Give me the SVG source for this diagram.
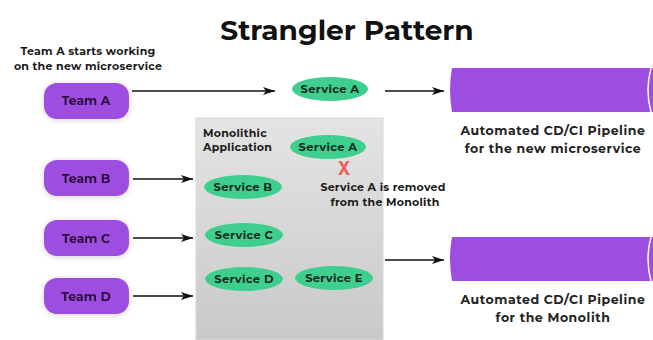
<svg xmlns="http://www.w3.org/2000/svg" width="653" height="340" viewBox="0 0 653 340">
  <defs>
    <linearGradient id="mono" x1="0" y1="0" x2="0" y2="1">
      <stop offset="0" stop-color="#e4e4e4"/>
      <stop offset="1" stop-color="#c9c9c9"/>
    </linearGradient>
    <filter id="soft" x="-20%" y="-20%" width="140%" height="140%">
      <feGaussianBlur in="SourceAlpha" stdDeviation="3"/>
      <feOffset dx="0" dy="1"/>
      <feComponentTransfer><feFuncA type="linear" slope="0.18"/></feComponentTransfer>
      <feMerge><feMergeNode/><feMergeNode in="SourceGraphic"/></feMerge>
    </filter>
    <marker id="arrow" viewBox="0 0 12 8" refX="12" refY="4" markerWidth="12" markerHeight="8" markerUnits="userSpaceOnUse" orient="auto">
      <path d="M0,0 L12,4 L0,8 L3,4 Z" fill="#111"/>
    </marker>
  </defs>
  <style>
    text { font-family: "Montserrat", "Noto Sans", "Liberation Sans", sans-serif; font-weight: bold; }
    .title { font-size: 28px; fill: #111; }
    .note { font-size: 11px; fill: #1a1a1a; letter-spacing: 0.25px; }
    .team rect { fill: #9d4ee0; }
    .team text { font-size: 12.5px; fill: #2a0f3a; text-anchor: middle; }
    .svc ellipse { fill: #3ecf8e; }
    .svc text { font-size: 11.5px; fill: #15291f; text-anchor: middle; letter-spacing: 0.3px; }
    .pipe .body { fill: #9d4ee0; }
    .pipe text { font-size: 12.5px; fill: #222; text-anchor: middle; letter-spacing: 0.55px; }
    .conn line { stroke: #111; stroke-width: 1.6; marker-end: url(#arrow); }
  </style>

  <rect width="653" height="340" fill="#ffffff"/>

  <text class="title" x="347" y="40" text-anchor="middle">Strangler Pattern</text>

  <!-- Monolith container -->
  <g id="monolith">
    <rect x="196" y="118" width="187" height="222" fill="url(#mono)" stroke="#d8d8d8" stroke-width="1"/>
    <text class="note" x="203" y="137" font-size="11.5">Monolithic</text>
    <text class="note" x="203" y="151" font-size="11.5">Application</text>
  </g>

  <!-- Teams -->
  <text class="note" x="88" y="55" text-anchor="middle">Team A starts working</text>
  <text class="note" x="88" y="70" text-anchor="middle">on the new microservice</text>

  <g id="team-a" class="team" filter="url(#soft)">
    <rect x="44" y="83" width="85" height="36" rx="13"/>
    <text x="86" y="105">Team A</text>
  </g>
  <g id="team-b" class="team" filter="url(#soft)">
    <rect x="44" y="160" width="85" height="36" rx="13"/>
    <text x="86" y="183">Team B</text>
  </g>
  <g id="team-c" class="team" filter="url(#soft)">
    <rect x="44" y="220" width="85" height="36" rx="13"/>
    <text x="86" y="243">Team C</text>
  </g>
  <g id="team-d" class="team" filter="url(#soft)">
    <rect x="44" y="278" width="85" height="36" rx="13"/>
    <text x="86" y="301">Team D</text>
  </g>

  <!-- Services -->
  <g id="service-a-new" class="svc">
    <ellipse cx="330" cy="89" rx="38" ry="12"/>
    <text x="330" y="93">Service A</text>
  </g>
  <g id="service-a-old" class="svc">
    <ellipse cx="328" cy="147" rx="38" ry="12"/>
    <text x="328" y="151">Service A</text>
  </g>
  <g id="service-b" class="svc">
    <ellipse cx="243" cy="187" rx="39" ry="12"/>
    <text x="243" y="191">Service B</text>
  </g>
  <g id="service-c" class="svc">
    <ellipse cx="244" cy="235" rx="39" ry="12"/>
    <text x="244" y="239">Service C</text>
  </g>
  <g id="service-d" class="svc">
    <ellipse cx="244" cy="279" rx="39" ry="12"/>
    <text x="244" y="283">Service D</text>
  </g>
  <g id="service-e" class="svc">
    <ellipse cx="334" cy="278" rx="39" ry="12"/>
    <text x="334" y="282">Service E</text>
  </g>

  <!-- Removal mark -->
  <g id="removed">
    <text transform="translate(344,175) scale(0.9,1.15)" x="0" y="0" font-size="18" fill="#f25a5a" text-anchor="middle" font-family="Liberation Sans, sans-serif" font-weight="bold">X</text>
    <text class="note" x="383" y="191" text-anchor="middle" font-size="11.5">Service A is removed</text>
    <text class="note" x="385" y="206" text-anchor="middle" font-size="11.5">from the Monolith</text>
  </g>

  <!-- Pipelines -->
  <g id="pipeline-micro" class="pipe">
    <path class="body" d="M452,68 L653,68 L653,112 L452,112 Q448,90 452,68 Z"/>
    <path d="M651,68 Q645,90 651,112" fill="none" stroke="#ffffff" stroke-width="1.5"/>
    <text x="553" y="135">Automated CD/CI Pipeline</text>
    <text x="553" y="153">for the new microservice</text>
  </g>
  <g id="pipeline-mono" class="pipe">
    <path class="body" d="M452,237 L653,237 L653,281 L452,281 Q448,259 452,237 Z"/>
    <path d="M651,237 Q645,259 651,281" fill="none" stroke="#ffffff" stroke-width="1.5"/>
    <text x="553" y="304">Automated CD/CI Pipeline</text>
    <text x="553" y="322">for the Monolith</text>
  </g>

  <!-- Connectors -->
  <g id="connectors" class="conn">
    <line x1="132" y1="91" x2="275" y2="91"/>
    <line x1="385" y1="91" x2="444" y2="91"/>
    <line x1="133" y1="179" x2="193" y2="179"/>
    <line x1="133" y1="238" x2="193" y2="238"/>
    <line x1="133" y1="296" x2="193" y2="296"/>
    <line x1="385" y1="260" x2="444" y2="260"/>
  </g>
</svg>
